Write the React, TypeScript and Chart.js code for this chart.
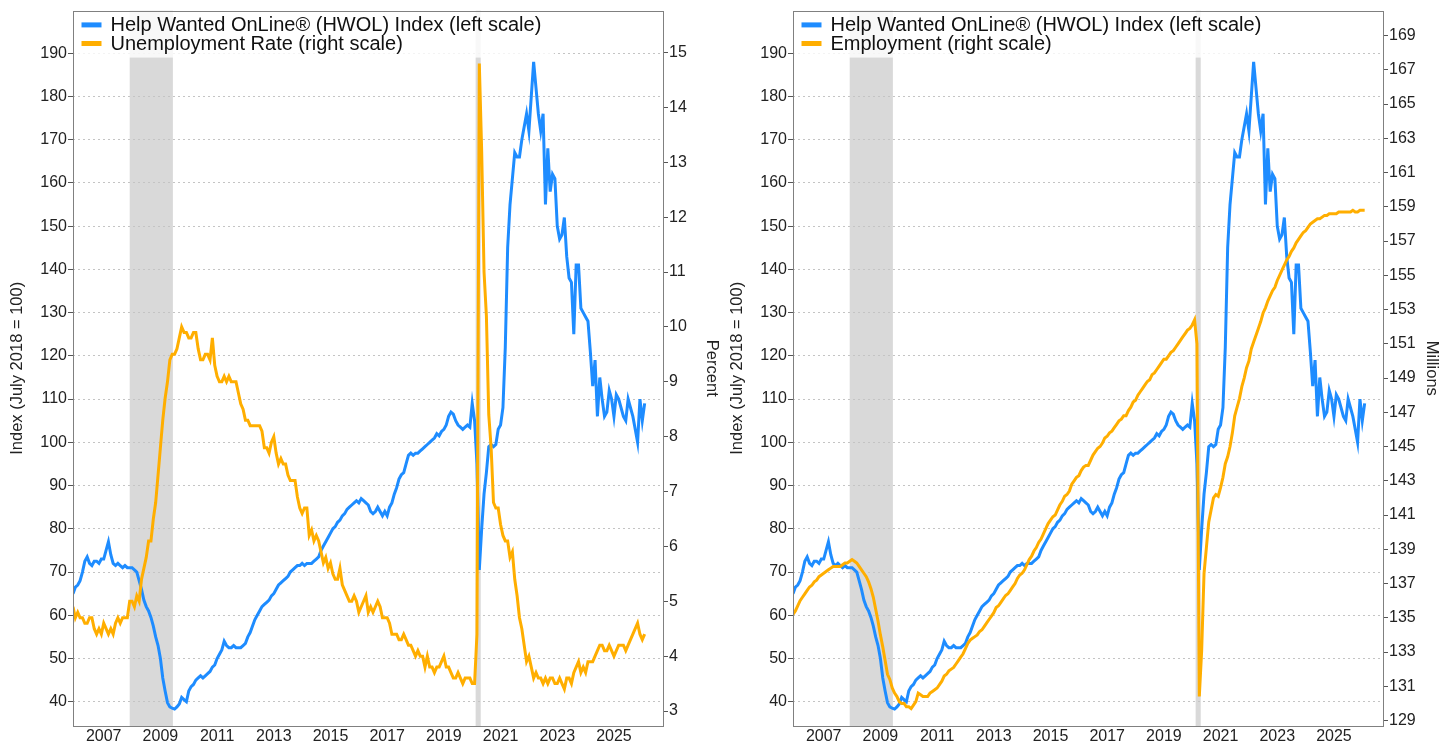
import React, { useEffect, useRef } from "react";
import { Chart, registerables } from "chart.js";

Chart.register(...registerables);

// ---------- data ----------
// monthly observations, first month = December 2005
const FIRST_MONTH = 2005 + 11 / 12;
const X_MIN = FIRST_MONTH;
const X_MAX = 2026.73;

const YEAR_TICKS = [2007, 2009, 2011, 2013, 2015, 2017, 2019, 2021, 2023, 2025];
const INDEX_TICKS = [40, 50, 60, 70, 80, 90, 100, 110, 120, 130, 140, 150, 160, 170, 180, 190];
const PERCENT_TICKS = [3, 4, 5, 6, 7, 8, 9, 10, 11, 12, 13, 14, 15];
const MILLIONS_TICKS = [129, 131, 133, 135, 137, 139, 141, 143, 145, 147, 149, 151, 153, 155, 157, 159, 161, 163, 165, 167, 169];

const RECESSIONS: [number, number][] = [
  [2007.917, 2009.44],
  [2020.12, 2020.3],
];

// Help Wanted OnLine index (July 2018 = 100)
const HWOL: number[] = [
  65,
  66.5, 67, 68, 70, 72.5, 73.5, 72, 71.5, 72.5, 72.5, 72, 73, // 2006
  73, 75, 77, 74, 72, 71.5, 72, 71.5, 71, 71.5, 71, 71, // 2007
  71, 70.5, 70, 68, 66, 63.5, 62, 61, 59.5, 57.5, 55, 53, // 2008
  50, 45.5, 42.5, 39.8, 38.8, 38.5, 38.3, 38.8, 39.5, 41, 40.5, 40, // 2009
  42.5, 43.5, 44, 45, 45.5, 46, 45.5, 46, 46.5, 47, 48, 48.5, // 2010
  50, 51, 52, 54, 53, 52.5, 52.5, 53, 52.5, 52.5, 52.5, 53, // 2011
  53.5, 55, 56, 57.5, 59, 60, 61, 62, 62.5, 63, 63.5, 64.5, // 2012
  65, 66, 67, 67.5, 68, 68.5, 69, 70, 70.5, 71, 71.5, 71.5, // 2013
  72, 71.5, 72, 72, 72, 72.5, 73, 73.5, 75, 76, 77, 78, // 2014
  79, 80, 80.5, 81.5, 82, 83, 83.5, 84.5, 85, 85.5, 86, 86.5, // 2015
  86, 87, 86.5, 86, 85.5, 84, 83.5, 84, 85, 84, 83, 84, // 2016
  83, 85, 86, 88, 89.5, 91.5, 92.5, 93, 95, 97, 97.5, 97, // 2017
  97.5, 97.5, 98, 98.5, 99, 99.5, 100, 100.5, 101, 102, 101.5, 102.5, // 2018
  103, 104, 106, 107, 106.5, 105, 104, 103.5, 103, 103.5, 104, 103.5, // 2019
  109, 105, 95, 70.5, 80, 88, 93, 99, 99.5, 99, 99.5, 103, // 2020
  104, 108, 122, 145, 155, 161, 167, 166, 166, 170, 173, 176, // 2021
  172, 180, 188, 182, 176, 172, 176, 155, 168, 158, 162, 161, // 2022
  150, 147, 148, 152, 143, 138, 137, 125, 141, 141, 131, 130, // 2023
  129, 128, 121, 113, 119, 106, 115, 110, 106, 107, 112, 110, // 2024
  106, 111, 110, 108, 106, 105, 110, 108, 106, 103, 100, 110, // 2025
  105, 109, // 2026
];

// Unemployment rate, percent
const UNEMPLOYMENT: (number | null)[] = [
  4.9,
  4.7, 4.8, 4.7, 4.7, 4.6, 4.6, 4.7, 4.7, 4.5, 4.4, 4.5, 4.4, // 2006
  4.6, 4.5, 4.4, 4.5, 4.4, 4.6, 4.7, 4.6, 4.7, 4.7, 4.7, 5.0, // 2007
  5.0, 4.9, 5.1, 5.0, 5.4, 5.6, 5.8, 6.1, 6.1, 6.5, 6.8, 7.3, // 2008
  7.8, 8.3, 8.7, 9.0, 9.4, 9.5, 9.5, 9.6, 9.8, 10.0, 9.9, 9.9, // 2009
  9.8, 9.8, 9.9, 9.9, 9.6, 9.4, 9.4, 9.5, 9.5, 9.4, 9.8, 9.3, // 2010
  9.1, 9.0, 9.0, 9.1, 9.0, 9.1, 9.0, 9.0, 9.0, 8.8, 8.6, 8.5, // 2011
  8.3, 8.3, 8.2, 8.2, 8.2, 8.2, 8.2, 8.1, 7.8, 7.8, 7.7, 7.9, // 2012
  8.0, 7.7, 7.5, 7.6, 7.5, 7.5, 7.3, 7.2, 7.2, 7.2, 6.9, 6.7, // 2013
  6.6, 6.7, 6.7, 6.2, 6.3, 6.1, 6.2, 6.1, 5.9, 5.7, 5.8, 5.6, // 2014
  5.7, 5.5, 5.4, 5.4, 5.6, 5.3, 5.2, 5.1, 5.0, 5.0, 5.1, 5.0, // 2015
  4.8, 4.9, 5.0, 5.1, 4.8, 4.9, 4.8, 4.9, 5.0, 4.9, 4.7, 4.7, // 2016
  4.7, 4.6, 4.4, 4.4, 4.4, 4.3, 4.3, 4.4, 4.3, 4.2, 4.2, 4.1, // 2017
  4.0, 4.1, 4.0, 4.0, 3.8, 4.0, 3.8, 3.8, 3.7, 3.8, 3.8, 3.9, // 2018
  4.0, 3.8, 3.8, 3.7, 3.6, 3.6, 3.7, 3.6, 3.5, 3.6, 3.6, 3.6, // 2019
  3.5, 3.5, 4.4, 14.8, 13.2, 11.0, 10.2, 8.4, 7.8, 6.8, 6.7, 6.7, // 2020
  6.4, 6.2, 6.1, 6.1, 5.8, 5.9, 5.4, 5.1, 4.7, 4.5, 4.2, 3.9, // 2021
  4.0, 3.8, 3.6, 3.7, 3.6, 3.6, 3.5, 3.6, 3.5, 3.6, 3.6, 3.5, // 2022
  3.5, 3.6, 3.5, 3.4, 3.6, 3.6, 3.5, 3.7, 3.8, 3.9, 3.7, 3.8, // 2023
  3.7, 3.9, 3.9, 3.9, 4.0, 4.1, 4.2, 4.2, 4.1, 4.1, 4.2, 4.1, // 2024
  4.0, 4.1, 4.2, 4.2, 4.2, 4.1, 4.2, 4.3, 4.4, null, 4.6, 4.4, // 2025
  4.3, 4.4, // 2026
];

// Nonfarm employment, millions
const EMPLOYMENT: number[] = [
  135.2,
  135.4, 135.7, 136.0, 136.2, 136.4, 136.6, 136.8, 136.9, 137.1, 137.2, 137.4, 137.5, // 2006
  137.6, 137.7, 137.8, 137.9, 138.0, 138.0, 138.0, 138.0, 138.1, 138.2, 138.2, 138.3, // 2007
  138.4, 138.3, 138.2, 138.0, 137.8, 137.6, 137.4, 137.1, 136.7, 136.2, 135.5, 134.8, // 2008
  134.0, 133.3, 132.5, 131.7, 131.4, 130.9, 130.6, 130.4, 130.1, 130.0, 130.0, 129.8, // 2009
  129.8, 129.7, 129.9, 130.1, 130.6, 130.5, 130.4, 130.4, 130.4, 130.6, 130.7, 130.8, // 2010
  130.9, 131.1, 131.3, 131.6, 131.7, 131.9, 132.0, 132.1, 132.3, 132.5, 132.7, 132.9, // 2011
  133.2, 133.5, 133.7, 133.8, 133.9, 134.0, 134.2, 134.3, 134.5, 134.7, 134.9, 135.1, // 2012
  135.3, 135.6, 135.7, 135.9, 136.1, 136.3, 136.4, 136.6, 136.8, 137.0, 137.3, 137.5, // 2013
  137.6, 137.8, 138.1, 138.4, 138.6, 138.9, 139.1, 139.4, 139.6, 139.9, 140.2, 140.5, // 2014
  140.7, 140.9, 141.0, 141.3, 141.6, 141.8, 142.1, 142.2, 142.4, 142.8, 143.0, 143.2, // 2015
  143.3, 143.6, 143.8, 143.9, 143.9, 144.2, 144.5, 144.7, 144.9, 145.0, 145.2, 145.5, // 2016
  145.6, 145.8, 145.9, 146.1, 146.3, 146.5, 146.6, 146.8, 146.8, 147.1, 147.3, 147.6, // 2017
  147.7, 148.0, 148.2, 148.4, 148.6, 148.8, 148.9, 149.2, 149.3, 149.5, 149.7, 149.9, // 2018
  150.1, 150.1, 150.3, 150.5, 150.6, 150.8, 151.0, 151.2, 151.4, 151.6, 151.8, 151.9, // 2019
  152.1, 152.4, 151.0, 130.4, 133.1, 137.6, 139.1, 140.6, 141.3, 142.0, 142.2, 142.1, // 2020
  142.6, 143.2, 144.0, 144.4, 145.0, 145.8, 146.8, 147.3, 147.8, 148.5, 149.0, 149.6, // 2021
  150.0, 150.7, 151.1, 151.5, 151.9, 152.3, 152.8, 153.1, 153.5, 153.8, 154.1, 154.3, // 2022
  154.7, 155.0, 155.3, 155.6, 155.9, 156.1, 156.4, 156.6, 156.9, 157.1, 157.3, 157.5, // 2023
  157.6, 157.8, 158.0, 158.1, 158.2, 158.3, 158.3, 158.4, 158.5, 158.5, 158.6, 158.6, // 2024
  158.6, 158.6, 158.7, 158.7, 158.7, 158.7, 158.7, 158.7, 158.8, 158.7, 158.7, 158.8, // 2025
  158.8, 158.8, // 2026
];

// ---------- styling ----------
const FONT = '"Liberation Sans", Arial, Helvetica, sans-serif';
const BLUE = "#1E8CFF";
const ORANGE = "#FFAE00";
const TEXT = "#222222";
const GRID = "#c4c4c4";
const SHADE = "#d9d9d9";
const FRAME = "#808080";

const toPoints = (arr: (number | null)[]) =>
  arr.map((v, i) => ({ x: FIRST_MONTH + i / 12, y: v }));

const setTicks = (values: number[]) => (scale: any) => {
  scale.ticks = values.map((v) => ({ value: v }));
};

const panelPlugin = {
  id: "panelDecor",
  beforeDraw(chart: any) {
    const { ctx, chartArea: a, scales } = chart;
    const x = scales.x;
    ctx.save();
    ctx.fillStyle = SHADE;
    RECESSIONS.forEach(([s, e]) => {
      const x0 = x.getPixelForValue(s);
      const x1 = x.getPixelForValue(e);
      ctx.fillRect(x0, a.top, x1 - x0, a.bottom - a.top);
    });
    ctx.restore();
  },
  afterDatasetsDraw(chart: any) {
    const { ctx, chartArea: a } = chart;
    ctx.save();
    // legend box
    ctx.fillStyle = "rgba(255,255,255,0.8)";
    ctx.fillRect(a.left, a.top, 481, 47);
    const ds = chart.data.datasets;
    ds.forEach((d: any, k: number) => {
      const y = a.top + 14.3 + k * 18.6;
      ctx.strokeStyle = d.borderColor;
      ctx.lineWidth = 5;
      ctx.lineCap = "butt";
      ctx.beginPath();
      ctx.moveTo(a.left + 8.5, y);
      ctx.lineTo(a.left + 28.5, y);
      ctx.stroke();
      ctx.fillStyle = "#111";
      ctx.font = `20px ${FONT}`;
      ctx.textBaseline = "middle";
      ctx.textAlign = "left";
      ctx.fillText(d.label, a.left + 37.5, y + 1);
    });
    // frame
    ctx.strokeStyle = FRAME;
    ctx.lineWidth = 1;
    ctx.strokeRect(Math.round(a.left) + 0.5, Math.round(a.top) + 0.5, Math.round(a.right - a.left), Math.round(a.bottom - a.top));
    ctx.restore();
  },
};

type PanelSpec = {
  rightLabel: string;
  rightData: (number | null)[];
  rightMin: number;
  rightMax: number;
  rightTicks: number[];
  rightTitle: string;
  leftWidth: number;
  rightWidth: number;
  leftTitlePad: number;
  rightTitlePad: number;
};

function buildConfig(p: PanelSpec): any {
  const tickFont = { family: FONT, size: 16 };
  const titleFont = { family: FONT, size: 16.5 };
  return {
    type: "line",
    data: {
      datasets: [
        {
          label: "Help Wanted OnLine® (HWOL) Index (left scale)",
          data: toPoints(HWOL),
          yAxisID: "y",
          borderColor: BLUE,
          borderWidth: 3,
          pointRadius: 0,
          tension: 0,
          fill: false,
          order: 1,
        },
        {
          label: p.rightLabel,
          data: toPoints(p.rightData),
          yAxisID: "yR",
          borderColor: ORANGE,
          borderWidth: 3,
          pointRadius: 0,
          tension: 0,
          fill: false,
          spanGaps: true,
          order: 0,
        },
      ],
    },
    options: {
      animation: false,
      responsive: false,
      maintainAspectRatio: false,
      events: [],
      layout: { padding: { top: 10, left: 0, right: 0, bottom: 0 } },
      plugins: { legend: { display: false }, tooltip: { enabled: false }, title: { display: false } },
      scales: {
        x: {
          type: "linear",
          position: "bottom",
          min: X_MIN,
          max: X_MAX,
          afterBuildTicks: setTicks(YEAR_TICKS),
          afterFit: (s: any) => {
            s.height = 22;
          },
          grid: { display: false, drawTicks: false },
          border: { display: false },
          ticks: {
            autoSkip: false,
            maxRotation: 0,
            padding: 1,
            font: tickFont,
            color: TEXT,
            callback: (v: any) => String(v),
          },
        },
        y: {
          type: "linear",
          position: "left",
          min: 34.39,
          max: 199.85,
          afterBuildTicks: setTicks(INDEX_TICKS),
          afterFit: (s: any) => {
            s.width = p.leftWidth;
          },
          grid: {
            display: true,
            drawOnChartArea: true,
            drawTicks: true,
            tickLength: 5,
            color: GRID,
            lineWidth: 1,
            tickColor: "#555",
            tickWidth: 1,
          },
          border: { display: false, dash: [2, 3] },
          ticks: {
            autoSkip: false,
            padding: 1,
            font: tickFont,
            color: TEXT,
            callback: (v: any) => String(v),
          },
          title: {
            display: true,
            text: "Index (July 2018 = 100)",
            font: titleFont,
            color: TEXT,
            padding: { top: p.leftTitlePad, bottom: 0 },
          },
        },
        yR: {
          type: "linear",
          position: "right",
          min: p.rightMin,
          max: p.rightMax,
          afterBuildTicks: setTicks(p.rightTicks),
          afterFit: (s: any) => {
            s.width = p.rightWidth;
          },
          grid: {
            display: true,
            drawOnChartArea: false,
            drawTicks: true,
            tickLength: 5,
            color: GRID,
            tickColor: "#555",
            tickWidth: 1,
          },
          border: { display: false },
          ticks: {
            autoSkip: false,
            padding: 1,
            font: tickFont,
            color: TEXT,
            callback: (v: any) => String(v),
          },
          title: {
            display: true,
            text: p.rightTitle,
            font: titleFont,
            color: TEXT,
            padding: { top: p.rightTitlePad, bottom: 0 },
          },
        },
      },
    },
    plugins: [panelPlugin],
  };
}

const LEFT_PANEL: PanelSpec = {
  rightLabel: "Unemployment Rate (right scale)",
  rightData: UNEMPLOYMENT,
  rightMin: 2.727,
  rightMax: 15.765,
  rightTicks: PERCENT_TICKS,
  rightTitle: "Percent",
  leftWidth: 73,
  rightWidth: 62,
  leftTitlePad: 8,
  rightTitlePad: 4,
};

const RIGHT_PANEL: PanelSpec = {
  rightLabel: "Employment (right scale)",
  rightData: EMPLOYMENT,
  rightMin: 128.68,
  rightMax: 170.46,
  rightTicks: MILLIONS_TICKS,
  rightTitle: "Millions",
  leftWidth: 68,
  rightWidth: 67,
  leftTitlePad: 3,
  rightTitlePad: 9,
};

function Panel({ spec }: { spec: PanelSpec }) {
  const ref = useRef<HTMLCanvasElement | null>(null);
  useEffect(() => {
    if (!ref.current) return;
    const chart = new Chart(ref.current, buildConfig(spec));
    return () => chart.destroy();
  }, [spec]);
  return <canvas ref={ref} width={725} height={748} style={{ display: "block", width: 725, height: 748 }} />;
}

export default function App() {
  return (
    <div
      style={{
        position: "absolute",
        left: 0,
        top: 0,
        width: 1450,
        height: 748,
        display: "flex",
        background: "#ffffff",
        overflow: "hidden",
      }}
    >
      <Panel spec={LEFT_PANEL} />
      <Panel spec={RIGHT_PANEL} />
    </div>
  );
}
